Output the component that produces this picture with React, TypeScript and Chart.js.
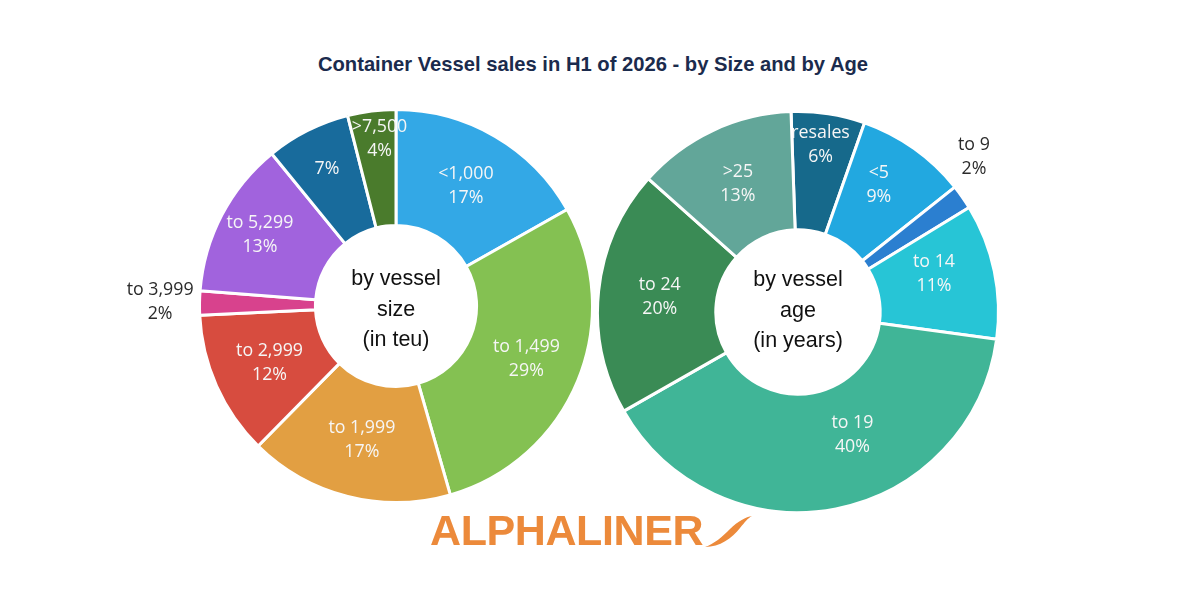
import React, { useEffect, useRef } from "react";
import { Chart, registerables } from "chart.js";

Chart.register(...registerables);

// Vessel sales by size band (teu)
const sizeLabels = ["<1,000", "to 1,499", "to 1,999", "to 2,999", "to 3,999", "to 5,299", "", ">7,500"];
const sizeShares = [17, 29, 17, 12, 2, 13, 7, 4];
const sizeColors = ["#33a8e6", "#84c152", "#e29f42", "#d74c3f", "#d8428d", "#a163dd", "#186b9c", "#4a7b2c"];

// Vessel sales by age band (years)
const ageLabels = ["resales", "<5", "to 9", "to 14", "to 19", "to 24", ">25"];
const ageShares = [6, 9, 2, 11, 40, 20, 13];
const ageColors = ["#16698b", "#22a8e0", "#2b7fd0", "#27c5d6", "#40b597", "#3a8b55", "#62a699"];

const titleText = "Container Vessel sales in H1 of 2026 - by Size and by Age";
const sizeCenterLines = ["by vessel", "size", "(in teu)"];
const ageCenterLines = ["by vessel", "age", "(in years)"];

const SLICE_FONT = '17.8px "Open Sans", sans-serif';
const CENTER_FONT = '21.5px "Liberation Sans", Arial, sans-serif';

// Draws "name / value%" inside (or just outside) each arc, plus the hole caption.
const donutTextPlugin = {
  id: "donutText",
  afterDatasetsDraw(chart: any, _args: any, opts: any) {
    const ctx = chart.ctx;
    const meta = chart.getDatasetMeta(0);
    const ds = chart.data.datasets[0];
    const names = chart.data.labels as string[];
    ctx.save();
    ctx.textAlign = "center";
    ctx.textBaseline = "middle";
    ctx.font = SLICE_FONT;
    meta.data.forEach((arc: any, i: number) => {
      const p = arc.getProps(["x", "y", "startAngle", "endAngle", "innerRadius", "outerRadius"], true);
      const mid = (p.startAngle + p.endAngle) / 2 + ((opts.nudge?.[i] ?? 0) * Math.PI) / 180;
      const r = p.innerRadius + (opts.radial?.[i] ?? 0.5) * (p.outerRadius - p.innerRadius);
      const x = p.x + Math.cos(mid) * r;
      const y = p.y + Math.sin(mid) * r;
      const lines = [names[i], ds.data[i] + "%"].filter((s) => s);
      ctx.fillStyle = opts.outside?.[i] ? "#2b2b2b" : "#f6f6f6";
      const lh = 24;
      lines.forEach((t, k) => {
        ctx.fillText(t, x, y + (k - (lines.length - 1) / 2) * lh);
      });
    });
    // caption in the hole
    const c = meta.data[0].getProps(["x", "y"], true);
    ctx.fillStyle = "#111";
    ctx.font = CENTER_FONT;
    const center: string[] = opts.center || [];
    center.forEach((t, k) => {
      ctx.fillText(t, c.x, c.y + (opts.centerShift || 0) + (k - (center.length - 1) / 2) * 30.5);
    });
    ctx.restore();
  },
};

type DonutProps = {
  labels: string[];
  values: number[];
  colors: string[];
  rotation: number;
  padding: { left: number; right: number; top: number; bottom: number };
  width: number;
  height: number;
  left: number;
  top: number;
  radial: number[];
  nudge: number[];
  outside: boolean[];
  center: string[];
  centerShift: number;
};

function Donut(props: DonutProps) {
  const ref = useRef<HTMLCanvasElement | null>(null);
  useEffect(() => {
    if (!ref.current) return;
    const chart = new Chart(ref.current, {
      type: "doughnut",
      data: {
        labels: props.labels,
        datasets: [
          {
            data: props.values,
            backgroundColor: props.colors,
            borderColor: "#ffffff",
            borderWidth: 3,
            hoverOffset: 0,
          },
        ],
      },
      options: {
        animation: false,
        responsive: false,
        maintainAspectRatio: false,
        cutout: "41%",
        rotation: props.rotation,
        layout: { padding: props.padding },
        events: [],
        plugins: {
          legend: { display: false },
          tooltip: { enabled: false },
          donutText: {
            radial: props.radial,
            nudge: props.nudge,
            outside: props.outside,
            center: props.center,
            centerShift: props.centerShift,
          },
        } as any,
      },
      plugins: [donutTextPlugin],
    });
    return () => chart.destroy();
  }, []);
  return (
    <canvas
      ref={ref}
      width={props.width}
      height={props.height}
      style={{ position: "absolute", left: props.left, top: props.top, width: props.width, height: props.height }}
    />
  );
}

export default function App() {
  return (
    <div
      style={{
        position: "fixed",
        left: 0,
        top: 0,
        width: 1200,
        height: 600,
        background: "#ffffff",
        overflow: "hidden",
      }}
    >
      <div
        style={{
          position: "absolute",
          left: 0,
          top: 51,
          width: 1186,
          textAlign: "center",
          font: 'bold 20.2px "Liberation Sans", Arial, sans-serif',
          lineHeight: "26px",
          color: "#1b2b4d",
        }}
      >
        {titleText}
      </div>

      <Donut
        labels={sizeLabels}
        values={sizeShares}
        colors={sizeColors}
        rotation={0}
        width={496}
        height={400}
        left={100}
        top={106}
        padding={{ left: 98, right: 2, top: 2, bottom: 2 }}
        radial={[0.5, 0.52, 0.5, 0.5, 1.34, 0.63, 0.63, 0.75]}
        nudge={[0, 0, 0, 0, 0, 0, 0, 1.5]}
        outside={[false, false, false, false, true, false, false, false]}
        center={sizeCenterLines}
        centerShift={4}
      />

      <Donut
        labels={ageLabels}
        values={ageShares}
        colors={ageColors}
        rotation={-2}
        width={424}
        height={408}
        left={596}
        top={108}
        padding={{ left: 0, right: 20, top: 2, bottom: 2 }}
        radial={[0.73, 0.58, 1.29, 0.5, 0.44, 0.48, 0.5]}
        nudge={[-1, -3, -6.5, -4, -13, 0, 0]}
        outside={[false, false, true, false, false, false, false]}
        center={ageCenterLines}
        centerShift={-1}
      />

      <div
        style={{
          position: "absolute",
          left: 430,
          top: 509,
          font: 'bold 43px "Liberation Sans", Arial, sans-serif',
          lineHeight: "43px",
          letterSpacing: "-0.4px",
          color: "#ec8a3b",
          whiteSpace: "nowrap",
        }}
      >
        ALPHALINER
      </div>
      <svg
        width={54}
        height={40}
        style={{ position: "absolute", left: 702, top: 512 }}
        viewBox="0 0 54 40"
      >
        <path
          d="M 3 35 C 18 35, 30 26, 38 16 C 43 10, 46 6, 50 4 C 44 5, 36 9, 28 17 C 20 25, 12 32, 3 35 Z"
          fill="#ec8a3b"
        />
      </svg>
    </div>
  );
}
